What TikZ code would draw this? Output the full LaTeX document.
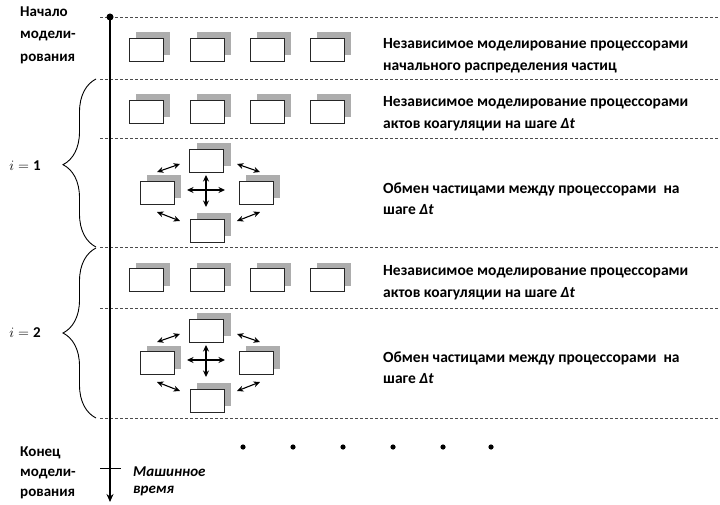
\documentclass[tikz,border=0pt]{standalone}
\usepackage{fontspec}
\setmainfont{Carlito}
\usetikzlibrary{decorations.pathreplacing,shadows,arrows.meta}
\begin{document}
\begin{tikzpicture}[x=1pt,y=-1pt,
  proc/.style={draw=black!85, line width=0.9pt, fill=white, minimum width=34pt, minimum height=23pt, inner sep=0pt,
    copy shadow={shadow xshift=7pt, shadow yshift=6pt, fill=black!32, draw=none}},
  sep/.style={draw=black!70, line width=0.8pt, dash pattern=on 3pt off 2pt},
  lbl/.style={font=\fontsize{15.5}{21.5}\selectfont\bfseries, align=left, anchor=west, inner sep=0pt},
  side/.style={font=\fontsize{15}{20}\selectfont\bfseries, align=left, anchor=west, inner sep=0pt},
  xarr/.style={{Stealth[length=6.5pt,width=6pt]}-{Stealth[length=6.5pt,width=6pt]}, line width=1.1pt},
  brc/.style={decorate, line width=0.9pt, decoration={brace, amplitude=33pt}},
]
\useasboundingbox (0,0) rectangle (720,505);

% separators
\foreach \n/\y in {0/17,1/79,2/138,3/247,4/308,5/418}{
  \coordinate (sl\n) at (100,\y);
  \coordinate (sr\n) at (720,\y);
  \draw[sep] (sl\n) -- (sr\n);
}

% time axis
\coordinate (axtop) at (110,17);
\coordinate (axbot) at (110,502);
\draw[line width=1.8pt, -{Stealth[length=8pt,width=7pt]}] (axtop) -- (axbot);
\fill (axtop) circle (3.5pt);
\coordinate (tickl) at (100,468);
\coordinate (tickr) at (121,468);
\draw[line width=1pt] (tickl) -- (tickr);

% left labels
\node[side, font=\fontsize{15}{22.5}\selectfont\bfseries] (start) at (20,35) {Начало\\модели-\\рования};
\node[side, font=\fontsize{15}{20}\selectfont\bfseries] (finish) at (20,473) {Конец\\модели-\\рования};
\node[side, font=\fontsize{15}{17}\selectfont\bfseries\itshape] (mtime) at (133,481) {Машинное\\время};

% braces
\coordinate (b1t) at (96,79);
\coordinate (b1b) at (96,247);
\draw[brc, decoration={aspect=0.49}] (b1b) -- (b1t);
\coordinate (b2t) at (96,248);
\coordinate (b2b) at (96,418);
\draw[brc, decoration={aspect=0.5}] (b2b) -- (b2t);
\node[font=\fontsize{15}{18}\selectfont] (i1) at (25,166) {$i=\mathbf{1}$};
\node[font=\fontsize{15}{18}\selectfont] (i2) at (25,333) {$i=\mathbf{2}$};

% processor rows
\foreach \r/\y in {a/49.5,b/112,c/280}{
  \foreach \i/\x in {1/146,2/207,3/267,4/327}{
    \node[proc] (\r\i) at (\x,\y) {};
  }
}

% exchange groups
\foreach \g/\dy in {1/0,2/170}{
  \node[proc] (top\g) at (206.5,160.5+\dy) {};
  \node[proc] (lft\g) at (157,193+\dy) {};
  \node[proc] (rgt\g) at (256,193+\dy) {};
  \node[proc] (bot\g) at (207,230.5+\dy) {};
  \coordinate (ch1\g) at (187,190+\dy);
  \coordinate (ch2\g) at (225,190+\dy);
  \coordinate (cv1\g) at (206,175+\dy);
  \coordinate (cv2\g) at (206,207+\dy);
  \draw[xarr] (ch1\g) -- (ch2\g);
  \draw[xarr] (cv1\g) -- (cv2\g);
  \coordinate (tla\g) at (157,172+\dy);
  \coordinate (tlb\g) at (180,164+\dy);
  \coordinate (tra\g) at (237,164+\dy);
  \coordinate (trb\g) at (260,172+\dy);
  \coordinate (bla\g) at (157,212+\dy);
  \coordinate (blb\g) at (180,221+\dy);
  \coordinate (bra\g) at (237,221+\dy);
  \coordinate (brb\g) at (260,212+\dy);
  \draw[xarr] (tla\g) -- (tlb\g);
  \draw[xarr] (tra\g) -- (trb\g);
  \draw[xarr] (bla\g) -- (blb\g);
  \draw[xarr] (bra\g) -- (brb\g);
}

% right texts
\node[lbl] (t1) at (383,55.5) {Независимое моделирование процессорами\\начального распределения частиц};
\node[lbl] (t2) at (383,113.5) {Независимое моделирование процессорами\\актов коагуляции на шаге \textit{Δt}};
\node[lbl] (t3) at (383,198.5) {Обмен частицами между процессорами\ \ на\\шаге \textit{Δt}};
\node[lbl] (t4) at (383,282.5) {Независимое моделирование процессорами\\актов коагуляции на шаге \textit{Δt}};
\node[lbl] (t5) at (383,367.5) {Обмен частицами между процессорами\ \ на\\шаге \textit{Δt}};

% continuation dots
\foreach \k/\x in {1/243,2/293,3/343,4/393,5/443,6/491}{
  \coordinate (dot\k) at (\x,447);
  \fill (dot\k) circle (2.6pt);
}
\end{tikzpicture}
\end{document}
